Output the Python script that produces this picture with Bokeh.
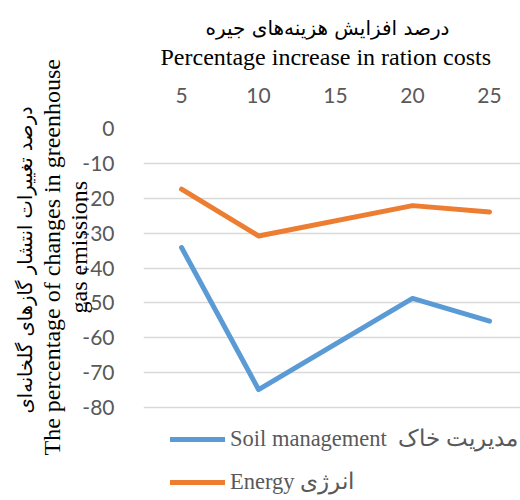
from bokeh.plotting import figure
from bokeh.models import Legend, LegendItem, FixedTicker, Range1d, Title
from bokeh.embed import file_html
from bokeh.resources import INLINE

# ---- data ----
x_ticks = [5, 10, 15, 20, 25]
cost_increase = [5, 10, 20, 25]
soil_management = [-34.1, -74.8, -48.7, -55.2]
energy = [-17.4, -30.8, -22.1, -23.9]
y_ticks = [0, -10, -20, -30, -40, -50, -60, -70, -80]

title_fa = "درصد افزایش هزینه‌های جیره"
title_en = "Percentage increase in ration costs"
ytitle_fa = "درصد تغییرات انتشار گازهای گلخانه‌ای"
ytitle_en1 = "The percentage of changes in greenhouse"
ytitle_en2 = "gas emissions"
label_soil = "Soil management  مدیریت خاک"
label_energy = "Energy انرژی"

BLUE = "#5B9BD5"
ORANGE = "#ED7D31"
GRAY = "#595959"

W, H = 520, 500

p = figure(width=W, height=H, output_backend="svg", toolbar_location=None,
           x_axis_location="above",
           x_range=Range1d(2.53, 27.01), y_range=Range1d(-106.6, 0),
           min_border_left=143, min_border_right=0,
           min_border_top=128, min_border_bottom=0)
p.outline_line_color = None
p.background_fill_color = "white"
p.border_fill_color = "white"

for ax in (p.xaxis[0], p.yaxis[0]):
    ax.axis_line_color = None
    ax.major_tick_line_color = None
    ax.minor_tick_line_color = None
    ax.major_label_text_font = "Lato"
    ax.major_label_text_font_size = "21px"
    ax.major_label_text_color = GRAY

p.xaxis[0].ticker = FixedTicker(ticks=x_ticks)
p.yaxis[0].ticker = FixedTicker(ticks=y_ticks)
p.yaxis[0].major_label_overrides = {t: str(t) for t in y_ticks}
p.xaxis[0].major_label_standoff = 20
p.yaxis[0].major_label_standoff = 23

p.xgrid.grid_line_color = None
p.ygrid.grid_line_color = "#D9D9D9"
p.ygrid.grid_line_width = 1.3
p.ygrid.ticker = FixedTicker(ticks=y_ticks)

r_soil = p.line(cost_increase, soil_management, line_color=BLUE, line_width=5,
                line_cap="round", line_join="round")
r_energy = p.line(cost_increase, energy, line_color=ORANGE, line_width=5,
                  line_cap="round", line_join="round")

legend = Legend(items=[LegendItem(label=label_soil, renderers=[r_soil]),
                       LegendItem(label=label_energy, renderers=[r_energy])],
                location=(27, 5), orientation="vertical",
                glyph_width=55, glyph_height=24, label_height=24,
                label_standoff=5, spacing=16, padding=0, margin=0,
                border_line_color=None, background_fill_alpha=0,
                label_text_font="Liberation Serif", label_text_font_size="22.5px",
                label_text_color=GRAY)
p.add_layout(legend)

# titles above (added outward from the axis)
p.add_layout(Title(text=title_en, align="left", offset=17,
                   text_font="Liberation Serif",
                   text_font_size="24px", text_font_style="normal",
                   text_color="black", standoff=30), "above")
p.add_layout(Title(text=title_fa, align="left", offset=62,
                   text_font="DejaVu Sans",
                   text_font_size="20px", text_font_style="normal",
                   text_color="black", standoff=-26), "above")

# titles on the left (added outward from the axis)
p.add_layout(Title(text=ytitle_en2, align="left", offset=187,
                   text_font="Liberation Serif",
                   text_font_size="24px", text_font_style="normal",
                   text_color="black", standoff=-24), "left")
p.add_layout(Title(text=ytitle_en1, align="left", offset=45,
                   text_font="Liberation Serif",
                   text_font_size="24px", text_font_style="normal",
                   text_color="black", standoff=21), "left")
p.add_layout(Title(text=ytitle_fa, align="left", offset=87,
                   text_font="DejaVu Sans",
                   text_font_size="19.5px", text_font_style="normal",
                   text_color="black", standoff=-20), "left")

open("out.html", "w").write(file_html(p, INLINE))
